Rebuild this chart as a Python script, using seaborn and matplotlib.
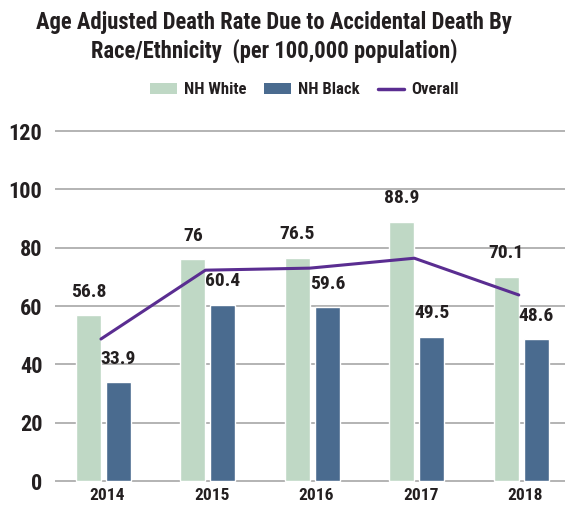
import numpy as np
import pandas as pd
import matplotlib
matplotlib.use("Agg")
import matplotlib.pyplot as plt
import matplotlib.transforms as mtransforms
from matplotlib import font_manager
from matplotlib.patches import Patch
from matplotlib.lines import Line2D
import seaborn as sns

years = ["2014", "2015", "2016", "2017", "2018"]
nh_white = [56.8, 76, 76.5, 88.9, 70.1]
nh_black = [33.9, 60.4, 59.6, 49.5, 48.6]
overall = [48.7, 72.3, 73.0, 76.4, 63.8]
y_ticks = [0, 20, 40, 60, 80, 100, 120]

title = "Age Adjusted Death Rate Due to Accidental Death By\nRace/Ethnicity  (per 100,000 population)"
series_names = ["NH White", "NH Black"]
line_name = "Overall"

c_white = "#bfd8c5"
c_black = "#4a6b8f"
c_line = "#5a2d91"
c_grid = "#b3b3b3"
c_text = "#231f20"

sns.set_theme(style="white")

installed = {f.name for f in font_manager.fontManager.ttflist}
family = "DejaVu Sans"
for cand in ["Liberation Sans Narrow", "Roboto Condensed", "Open Sans Condensed", "Liberation Sans"]:
    if cand in installed:
        family = cand
        break
plt.rcParams["font.family"] = [family, "DejaVu Sans"]
plt.rcParams["text.color"] = c_text

df = pd.DataFrame({
    "year": years * 2,
    "rate": nh_white + nh_black,
    "group": [series_names[0]] * len(years) + [series_names[1]] * len(years),
})

fig = plt.figure(figsize=(5.67, 5.08), dpi=100)
ax = fig.add_axes([0.097, 0.0497, 0.899, 0.698])

sns.barplot(data=df, x="year", y="rate", hue="group", order=years,
            hue_order=series_names, palette=[c_white, c_black],
            width=0.574, gap=0.164, saturation=1, legend=False, ax=ax)

xpos = np.arange(len(years)) - 0.024
sns.lineplot(x=xpos, y=overall, color=c_line, linewidth=2.2, ax=ax,
             legend=False)

for cont in ax.containers:
    ax.bar_label(cont, labels=[f"{v:g}" for v in cont.datavalues],
                 padding=10.5, fontsize=14, fontweight="bold", color=c_text)

ax.set_xlim(-0.464, 4.416)
ax.set_ylim(-0.6, 121)
ax.set_yticks(y_ticks)
ax.set_yticklabels([str(t) for t in y_ticks])
ax.grid(axis="y", color=c_grid, linewidth=1.4)
ax.set_axisbelow(True)
for s in ax.spines.values():
    s.set_visible(False)
ax.set_xlabel("")
ax.set_ylabel("")
ax.tick_params(axis="y", length=0, pad=9, labelsize=16, labelcolor=c_text)
ax.tick_params(axis="x", length=0, pad=4, labelsize=12.5, labelcolor=c_text)
for lab in ax.get_yticklabels() + ax.get_xticklabels():
    lab.set_fontweight("bold")
shift = mtransforms.ScaledTranslation(4 / 100, 0, fig.dpi_scale_trans)
for lab in ax.get_xticklabels():
    lab.set_transform(lab.get_transform() + shift)

fig.text(0.484, 0.978, title, ha="center", va="top", fontsize=16.3,
         fontweight="bold", linespacing=1.25, color=c_text)

handles = [Patch(facecolor=c_white, edgecolor="none"),
           Patch(facecolor=c_black, edgecolor="none"),
           Line2D([], [], color=c_line, linewidth=2.5)]
leg = fig.legend(handles, series_names + [line_name], loc="center",
                 bbox_to_anchor=(0.537, 1 - 90 / 508), ncol=3, frameon=False,
                 handlelength=1.6, handleheight=0.6, handletextpad=0.4,
                 columnspacing=1.1, prop={"weight": "bold", "size": 12})

fig.savefig("out.png", dpi=100)
